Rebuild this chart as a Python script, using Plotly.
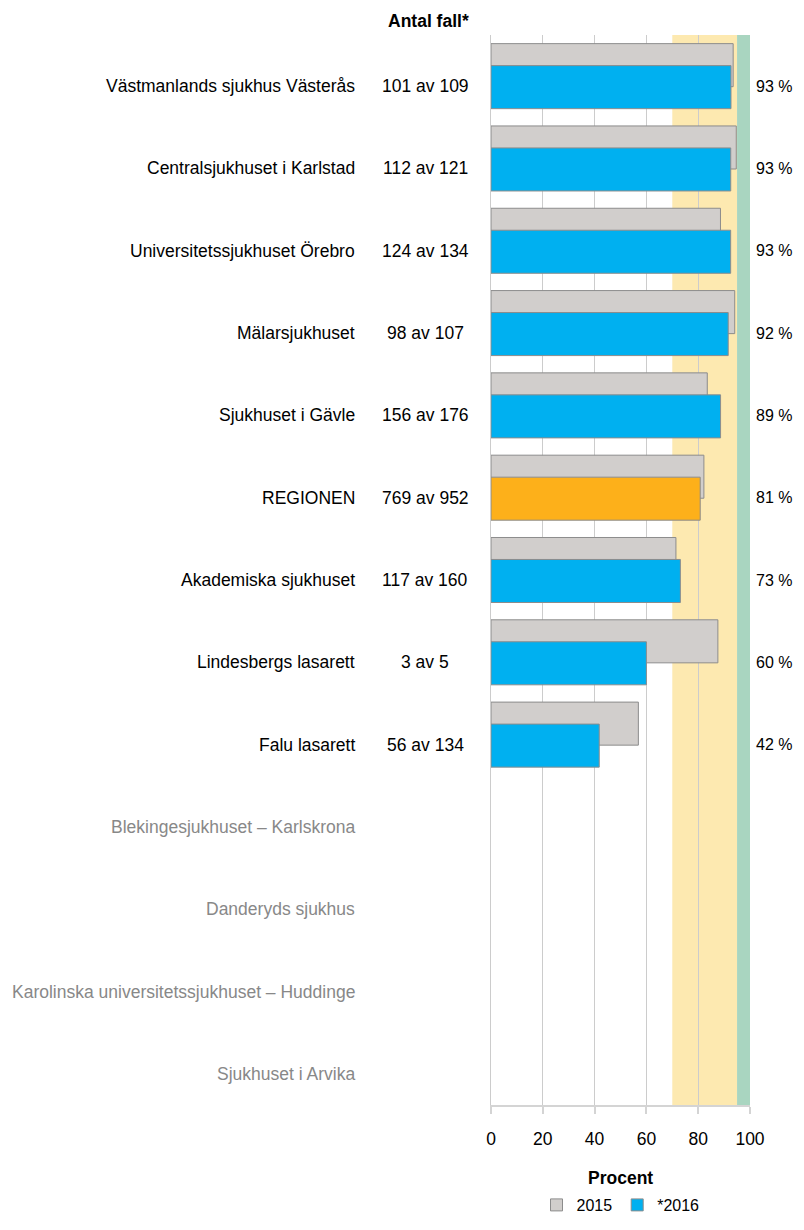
import plotly.graph_objects as go

# sjukhus, uppifrån och ned
sjukhus = [
    "Västmanlands sjukhus Västerås",
    "Centralsjukhuset i Karlstad",
    "Universitetssjukhuset Örebro",
    "Mälarsjukhuset",
    "Sjukhuset i Gävle",
    "REGIONEN",
    "Akademiska sjukhuset",
    "Lindesbergs lasarett",
    "Falu lasarett",
    "Blekingesjukhuset – Karlskrona",
    "Danderyds sjukhus",
    "Karolinska universitetssjukhuset – Huddinge",
    "Sjukhuset i Arvika",
]

# antal fall 2016 (täljare / nämnare), None = inga data
antal = [101, 112, 124, 98, 156, 769, 117, 3, 56, None, None, None, None]
totalt = [109, 121, 134, 107, 176, 952, 160, 5, 134, None, None, None, None]

# andel i procent
andel_2015 = [93.5, 94.7, 88.6, 94.1, 83.5, 82.2, 71.4, 87.6, 56.9, None, None, None, None]
andel_2016 = [a / t * 100 if a is not None else None for a, t in zip(antal, totalt)]

# målnivåer
mal_lag = 70
mal_hog = 95

GRA = "#d1cecc"
BLA = "#00b0f0"
ORANGE = "#fdb01a"
KANT = "#8c8c8c"
FONT = "Liberation Sans, Arial, sans-serif"
FS = 17.5

fig = go.Figure()

fig.add_trace(go.Bar(
    y=sjukhus, x=andel_2015, orientation="h", name="2015",
    marker=dict(color=GRA, line=dict(color=KANT, width=1)),
    width=0.523, offset=-0.395, hoverinfo="x+y",
))
fig.add_trace(go.Bar(
    y=sjukhus, x=andel_2016, orientation="h", name="*2016",
    marker=dict(color=[ORANGE if s == "REGIONEN" else BLA for s in sjukhus],
                line=dict(color=KANT, width=1)),
    width=0.523, offset=-0.128, hoverinfo="x+y",
))

# bakgrundsband för målnivåer
fig.add_shape(type="rect", xref="x", yref="paper", x0=mal_lag, x1=mal_hog, y0=0, y1=1,
              fillcolor="#fde9b0", line_width=0, layer="below")
fig.add_shape(type="rect", xref="x", yref="paper", x0=mal_hog, x1=100, y0=0, y1=1,
              fillcolor="#a9d5c0", line_width=0, layer="below")

annotations = []
for i, s in enumerate(sjukhus):
    har_data = antal[i] is not None
    annotations.append(dict(
        text=s, xref="paper", yref="y", x=-0.516, y=s, xanchor="right", yanchor="middle",
        yshift=-10, showarrow=False,
        font=dict(size=FS, color="#000000" if har_data else "#888888"),
    ))
    if har_data:
        annotations.append(dict(
            text=f"{antal[i]} av {totalt[i]}", xref="paper", yref="y", x=-0.254, y=s,
            xanchor="center", yanchor="middle", yshift=-10, showarrow=False,
            font=dict(size=FS, color="#000000"),
        ))
        annotations.append(dict(
            text=f"{round(andel_2016[i])} %", xref="paper", yref="y", x=1.017, y=s,
            xanchor="left", yanchor="middle", yshift=-10, showarrow=False,
            font=dict(size=16, color="#000000"),
        ))

annotations.append(dict(
    text="<b>Antal fall*</b>", xref="paper", yref="paper", x=-0.243, y=1.013,
    xanchor="center", yanchor="middle", showarrow=False, font=dict(size=FS, color="#000000"),
))
annotations.append(dict(
    text="<b>Procent</b>", xref="paper", yref="paper", x=0.5, y=-0.068,
    xanchor="center", yanchor="middle", showarrow=False, font=dict(size=FS, color="#000000"),
))

# sidan har 8 px marginal i webbläsaren, därför 788 x 1214
fig.update_layout(
    width=788, height=1214,
    margin=dict(l=483, r=45.5, t=27, b=117),
    paper_bgcolor="white", plot_bgcolor="white",
    font=dict(family=FONT, size=FS, color="#000000"),
    barmode="overlay",
    showlegend=True,
    legend=dict(orientation="h", x=0.5, xanchor="center", xref="paper",
                y=0, yanchor="bottom", yref="container",
                font=dict(size=16), itemwidth=30, traceorder="normal"),
    annotations=annotations,
    xaxis=dict(
        range=[0, 100], tickvals=[0, 20, 40, 60, 80, 100],
        showgrid=True, gridcolor="#cccccc", gridwidth=1,
        showline=True, linecolor="#d4d4d4", linewidth=2,
        ticks="outside", ticklen=7, tickwidth=2, tickcolor="#d4d4d4",
        ticklabelstandoff=10,
        tickfont=dict(size=FS), zeroline=False, fixedrange=True,
    ),
    yaxis=dict(
        categoryorder="array", categoryarray=sjukhus, autorange="reversed",
        showticklabels=False, showgrid=False, zeroline=False,
        showline=True, linecolor="#cccccc", linewidth=1, fixedrange=True,
    ),
)

fig.write_html("out.html")
